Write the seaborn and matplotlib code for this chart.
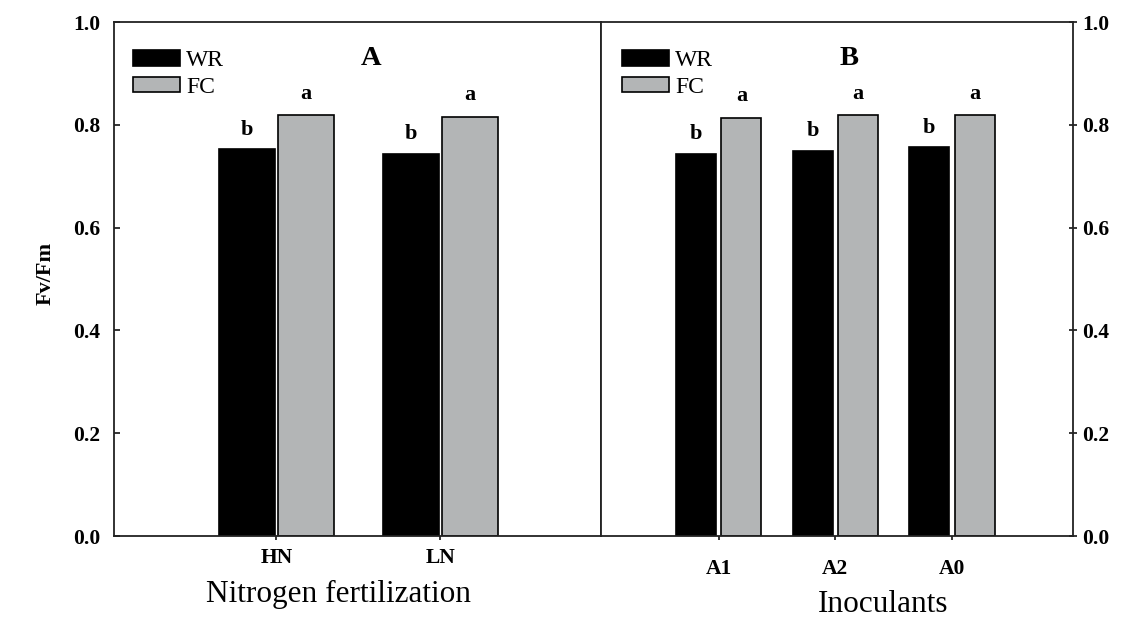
import matplotlib
matplotlib.use("Agg")
import matplotlib.pyplot as plt
import seaborn as sns
import pandas as pd
from matplotlib.patches import Patch

# ---------------- data ----------------
treatments = ["WR", "FC"]
nitrogen_levels = ["HN", "LN"]
nitrogen_wr = [0.752, 0.743]
nitrogen_fc = [0.819, 0.816]
nitrogen_wr_letters = ["b", "b"]
nitrogen_fc_letters = ["a", "a"]

inoculants = ["A1", "A2", "A0"]
inoc_wr = [0.743, 0.750, 0.756]
inoc_fc = [0.814, 0.819, 0.819]
inoc_wr_letters = ["b", "b", "b"]
inoc_fc_letters = ["a", "a", "a"]

y_ticks = [0.0, 0.2, 0.4, 0.6, 0.8, 1.0]
y_tick_labels = ["0.0", "0.2", "0.4", "0.6", "0.8", "1.0"]
panel_titles = ["A", "B"]
x_titles = ["Nitrogen fertilization", "Inoculants"]
y_title = "Fv/Fm"

# ---------------- style ----------------
sns.set_theme(style="ticks")
plt.rcParams["font.family"] = ["Liberation Serif", "DejaVu Serif"]
plt.rcParams["text.color"] = "black"
plt.rcParams["axes.labelcolor"] = "black"
plt.rcParams["xtick.color"] = "black"
plt.rcParams["ytick.color"] = "black"
GREY = "#b3b5b6"
palette = {"WR": "black", "FC": GREY}
SPINE = "#222222"


def long_df(cats, wr, fc):
    return pd.DataFrame({
        "cat": cats + cats,
        "trt": ["WR"] * len(cats) + ["FC"] * len(cats),
        "val": wr + fc,
    })


fig = plt.figure(figsize=(11.26, 6.2), dpi=100)
W, H = 1126, 620
bottom_px, top_px = 536, 22
ax1 = fig.add_axes([114 / W, 1 - bottom_px / H, (601 - 114) / W, (bottom_px - top_px) / H])
ax2 = fig.add_axes([601 / W, 1 - bottom_px / H, (1073 - 601) / W, (bottom_px - top_px) / H])

panels = [
    (ax1, nitrogen_levels, nitrogen_wr, nitrogen_fc, nitrogen_wr_letters, nitrogen_fc_letters,
     0.72, 0.055, (-0.99, 1.98)),
    (ax2, inoculants, inoc_wr, inoc_fc, inoc_wr_letters, inoc_fc_letters,
     0.78, 0.12, (-1.01, 3.04)),
]

for ax, cats, wr, fc, wl, fl, width, gap, xlim in panels:
    df = long_df(cats, wr, fc)
    sns.barplot(data=df, x="cat", y="val", hue="trt", order=cats, hue_order=treatments,
                palette=palette, width=width, gap=gap, edgecolor="black", linewidth=1.2,
                ax=ax, legend=False, errorbar=None)
    ax.bar_label(ax.containers[0], labels=wl, padding=7, fontsize=16, fontweight="bold",
                 color="black")
    ax.bar_label(ax.containers[1], labels=fl, padding=8, fontsize=16, fontweight="bold",
                 color="black")
    ax.set_xlim(*xlim)
    ax.set_ylim(0, 1.0)
    ax.set_yticks(y_ticks)
    for s in ax.spines.values():
        s.set_visible(True)
        s.set_color(SPINE)
        s.set_linewidth(1.3)

# left panel axes
ax1.set_yticklabels(y_tick_labels, fontweight="bold", fontsize=15.5)
ax1.tick_params(axis="y", direction="in", length=4.5, width=1.1, pad=10, colors="black")
ax1.tick_params(axis="x", direction="out", length=3, width=1.1, pad=5.5, colors="black")
ax1.set_xticks(range(len(nitrogen_levels)))
ax1.set_xticklabels(nitrogen_levels, fontweight="bold", fontsize=15.5)
ax1.set_ylabel(y_title, fontsize=16, fontweight="bold")
ax1.yaxis.set_label_coords(-0.12, 0.51)
ax1.set_xlabel(x_titles[0], fontsize=22.5)
ax1.xaxis.set_label_coords(0.46, -0.086)
ax1.xaxis.label.set_va("top")

# right panel axes
ax2.yaxis.tick_right()
ax2.set_yticklabels(y_tick_labels, fontweight="bold", fontsize=15.5)
ax2.tick_params(axis="y", direction="inout", length=6, width=1.1, pad=3.5, colors="black")
ax2.tick_params(axis="x", direction="out", length=3, width=1.1, pad=13.5, colors="black")
ax2.set_xticks(range(len(inoculants)))
ax2.set_xticklabels(inoculants, fontweight="bold", fontsize=15.5)
ax2.set_ylabel("")
ax2.set_xlabel(x_titles[1], fontsize=22.5)
ax2.xaxis.set_label_coords(0.597, -0.105)
ax2.xaxis.label.set_va("top")

# panel letters
ax1.text(0.528, 0.917, panel_titles[0], transform=ax1.transAxes, ha="center",
         va="baseline", fontsize=20.5, fontweight="bold", color="black")
ax2.text(0.525, 0.917, panel_titles[1], transform=ax2.transAxes, ha="center",
         va="baseline", fontsize=20.5, fontweight="bold", color="black")

# legends
for ax, xa in [(ax1, 0.039), (ax2, 0.044)]:
    handles = [Patch(facecolor=palette[t], edgecolor="black", linewidth=1.2) for t in treatments]
    ax.legend(handles, treatments, loc="upper left", bbox_to_anchor=(xa, 0.945),
              frameon=False, borderpad=0, borderaxespad=0, handlelength=2.0,
              handleheight=0.64, handletextpad=0.25, labelspacing=0.22,
              prop=dict(family="Liberation Serif", size=17), labelcolor="black")

fig.savefig("out.png", dpi=100)
